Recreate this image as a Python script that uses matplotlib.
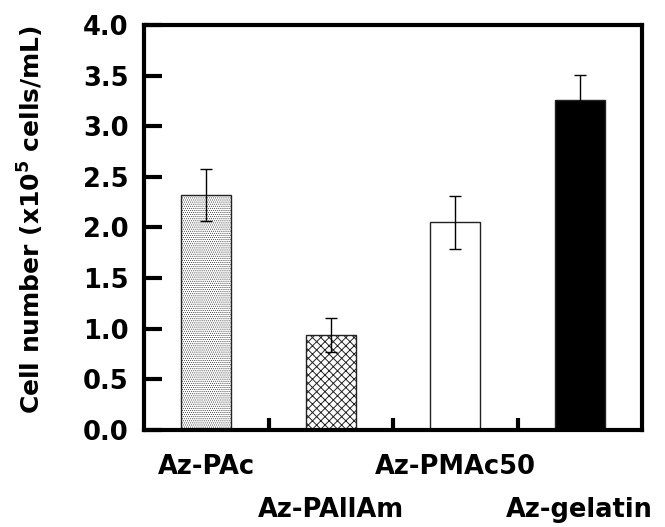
import matplotlib
matplotlib.use("Agg")
import matplotlib.pyplot as plt

categories = ["Az-PAc", "Az-PAllAm", "Az-PMAc50", "Az-gelatin"]
values = [2.32, 0.94, 2.05, 3.26]
errors = [0.26, 0.17, 0.26, 0.25]
yticks = [0.0, 0.5, 1.0, 1.5, 2.0, 2.5, 3.0, 3.5, 4.0]

plt.rcParams['font.family'] = ['DejaVu Sans']
plt.rcParams['mathtext.fontset'] = 'dejavusans'
plt.rcParams['hatch.color'] = 'black'

FS = 18.5
fig = plt.figure(figsize=(6.65, 5.27), dpi=100)
ax = fig.add_axes([144/665, 1 - 430/527, (642-144)/665, (430-25)/527])

x = list(range(len(categories)))
faces = ['white', 'white', 'white', 'black']
hatches = ['........', 'xxxx', None, None]
hatch_lw = [0.4, 0.7, 0.7, 0.7]
for i in x:
    plt.rcParams['hatch.linewidth'] = hatch_lw[i]
    ax.bar(i, values[i], width=0.4, color=faces[i], edgecolor='#222222',
           linewidth=1.0, hatch=hatches[i], zorder=2)
ax.errorbar(x, values, yerr=errors, fmt='none', ecolor='black',
            elinewidth=1.0, capsize=4, capthick=1.0, zorder=3)

ax.set_xlim(-0.5, 3.5)
ax.set_ylim(0, 4.0)
ax.set_yticks(yticks)
ax.set_yticklabels([f"{v:.1f}" for v in yticks], fontsize=FS, fontweight='bold')
ax.tick_params(axis='y', direction='in', length=13, width=3, pad=11)

ax.set_xticks([0.5, 1.5, 2.5])
ax.set_xticklabels([])
ax.tick_params(axis='x', direction='in', length=9, width=3)

for s in ax.spines.values():
    s.set_linewidth(3)

# staggered category labels
for i, c in enumerate(categories):
    off = -37 if i % 2 == 0 else -80
    ax.annotate(c, xy=(i, 0), xycoords='data', xytext=(0, off),
                textcoords='offset pixels', ha='center', va='center',
                fontsize=FS, fontweight='bold')

ax.set_ylabel("Cell number (x10$^{\\mathbf{5}}$ cells/mL)", fontsize=18,
              fontweight='bold', va='center')
ax.yaxis.set_label_coords(-(144 - 31) / 498, (430 - 220) / 405)

fig.savefig("out.png", dpi=100)
